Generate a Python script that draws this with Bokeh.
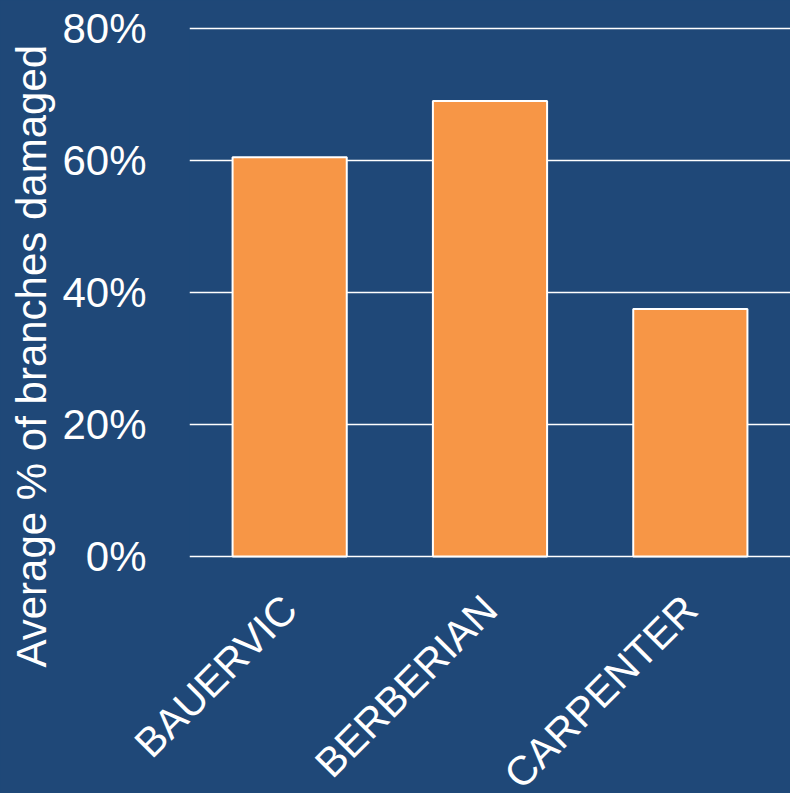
from bokeh.plotting import figure
from bokeh.models import FixedTicker, NumeralTickFormatter, ColumnDataSource, Range1d, FactorRange, Title
from bokeh.embed import file_html
from bokeh.resources import INLINE
import math

categories = ["BAUERVIC", "BERBERIAN", "CARPENTER"]
damaged = [0.605, 0.69, 0.375]
y_ticks = [0, 0.2, 0.4, 0.6, 0.8]
y_title = "Average % of branches damaged"

BG = "#1f4878"
ORANGE = "#f79646"
FONT = "Liberation Sans"

src = ColumnDataSource(dict(cat=categories, val=damaged))

p = figure(x_range=FactorRange(*categories, range_padding=0), y_range=Range1d(-0.003, 0.803),
           width=790, height=816, output_backend="svg", toolbar_location=None,
           min_border_left=187, min_border_right=0, min_border_top=26, min_border_bottom=236)
p.styles = {"background-color": BG}
p.background_fill_color = None
p.border_fill_color = BG
p.outline_line_color = None

p.vbar(x="cat", top="val", bottom=0, width=0.57, source=src, fill_color=ORANGE,
       line_color="white", line_width=2)

p.xgrid.grid_line_color = None
p.ygrid.grid_line_color = "white"
p.ygrid.grid_line_width = 1.5
p.ygrid.level = "underlay"

p.yaxis.ticker = FixedTicker(ticks=y_ticks)
p.yaxis.formatter = NumeralTickFormatter(format="0%")
for ax in (p.xaxis[0], p.yaxis[0]):
    ax.axis_line_color = None
    ax.major_tick_line_color = None
    ax.minor_tick_line_color = None
    ax.major_label_text_color = "white"
    ax.major_label_text_font = FONT
    ax.major_label_text_font_size = "42px"
p.yaxis.major_label_standoff = 37
p.xaxis.major_label_text_font_size = "41px"
p.xaxis.major_label_orientation = math.pi / 4
p.xaxis.major_label_standoff = 38

t = Title(text=y_title, align="left", offset=-109, standoff=10,
          text_color="white", text_font=FONT, text_font_size="42px",
          text_font_style="normal")
p.add_layout(t, "left")

open("out.html", "w").write(file_html(p, INLINE))
